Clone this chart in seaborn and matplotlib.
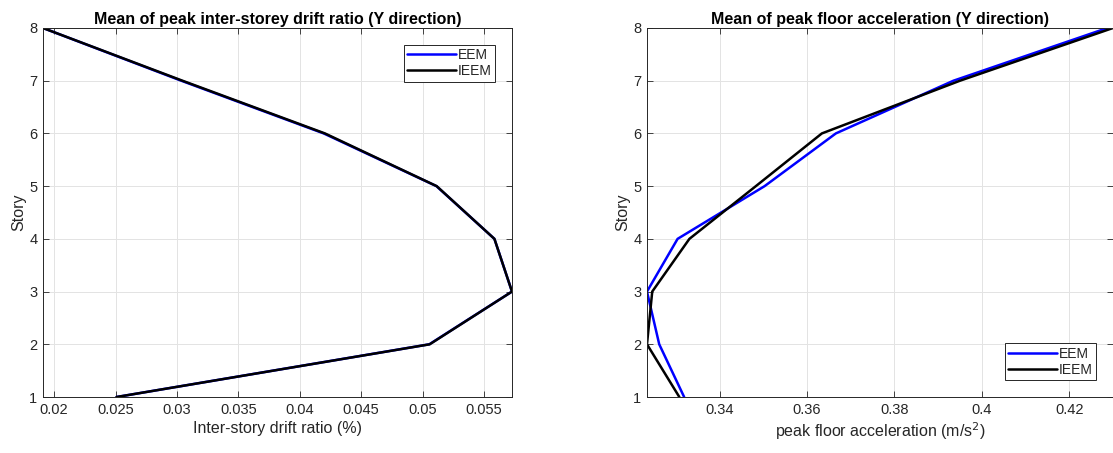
import matplotlib
matplotlib.use("Agg")
import matplotlib.pyplot as plt
import seaborn as sns
import pandas as pd

stories = [1, 2, 3, 4, 5, 6, 7, 8]
drift_eem = [0.02508, 0.05055, 0.05728, 0.05585, 0.05113, 0.04195, 0.03035, 0.01909]
drift_ieem = [0.02508, 0.05058, 0.05728, 0.05585, 0.05115, 0.04205, 0.03045, 0.01909]
acc_eem = [0.3319, 0.3262, 0.3234, 0.3304, 0.3503, 0.3666, 0.3935, 0.4287]
acc_ieem = [0.3308, 0.3234, 0.3246, 0.3331, 0.3483, 0.3634, 0.3950, 0.4300]
series_names = ["EEM", "IEEM"]
colors = {"EEM": "#0000ff", "IEEM": "#000000"}

sns.set_theme(style="whitegrid")
plt.rcParams["font.family"] = ["Liberation Sans", "DejaVu Sans"]

fig = plt.figure(figsize=(11.13, 4.53), dpi=100)
ax1 = fig.add_axes([0.0386, 0.1236, 0.4214, 0.8146])
ax2 = fig.add_axes([0.5813, 0.1236, 0.4187, 0.8146])

def make_df(a, b):
    return pd.DataFrame({
        "x": a + b,
        "Story": stories + stories,
        "Method": [series_names[0]] * len(a) + [series_names[1]] * len(b),
    })

df1 = make_df(drift_eem, drift_ieem)
df2 = make_df(acc_eem, acc_ieem)

for ax, df, title, xlabel, xticks, legloc in [
    (ax1, df1, "Mean of peak inter-storey drift ratio (Y direction)",
     "Inter-story drift ratio (%)",
     [0.02, 0.025, 0.03, 0.035, 0.04, 0.045, 0.05, 0.055], "upper right"),
    (ax2, df2, "Mean of peak floor acceleration (Y direction)",
     "peak floor acceleration (m/s$^2$)",
     [0.34, 0.36, 0.38, 0.4, 0.42], "lower right"),
]:
    sns.lineplot(data=df, x="x", y="Story", hue="Method", palette=colors,
                 sort=False, estimator=None, linewidth=1.8, ax=ax)
    ax.set_xlim(min(df["x"]), max(df["x"]))
    ax.set_ylim(1, 8)
    ax.set_yticks(stories)
    ax.set_xticks(xticks)
    ax.set_xticklabels([("%g" % t) for t in xticks])
    ax.set_title(title, fontsize=11.5, fontweight="bold", color="black", pad=3)
    ax.set_xlabel(xlabel, fontsize=11.5, color="#262626", labelpad=3)
    ax.set_ylabel("Story", fontsize=11.5, color="#262626", labelpad=2)
    ax.tick_params(axis="both", labelsize=10.5, colors="#262626", direction="in",
                   length=4, width=0.6, pad=4, top=True, right=True,
                   bottom=True, left=True)
    ax.grid(True, color="#e3e3e3", linewidth=0.7)
    for s in ax.spines.values():
        s.set_visible(True)
        s.set_color("#262626")
        s.set_linewidth(0.7)
    ax.set_facecolor("white")
    leg = ax.legend(loc=legloc, fontsize=10, frameon=True, fancybox=False,
                    framealpha=1, edgecolor="#262626", borderpad=0.25,
                    handlelength=3.5, handletextpad=0.15, labelspacing=0.15,
                    borderaxespad=1.2)
    leg.get_frame().set_linewidth(0.7)
    for line in leg.get_lines():
        line.set_linewidth(1.8)

fig.savefig("out.png", dpi=100, facecolor="white")
